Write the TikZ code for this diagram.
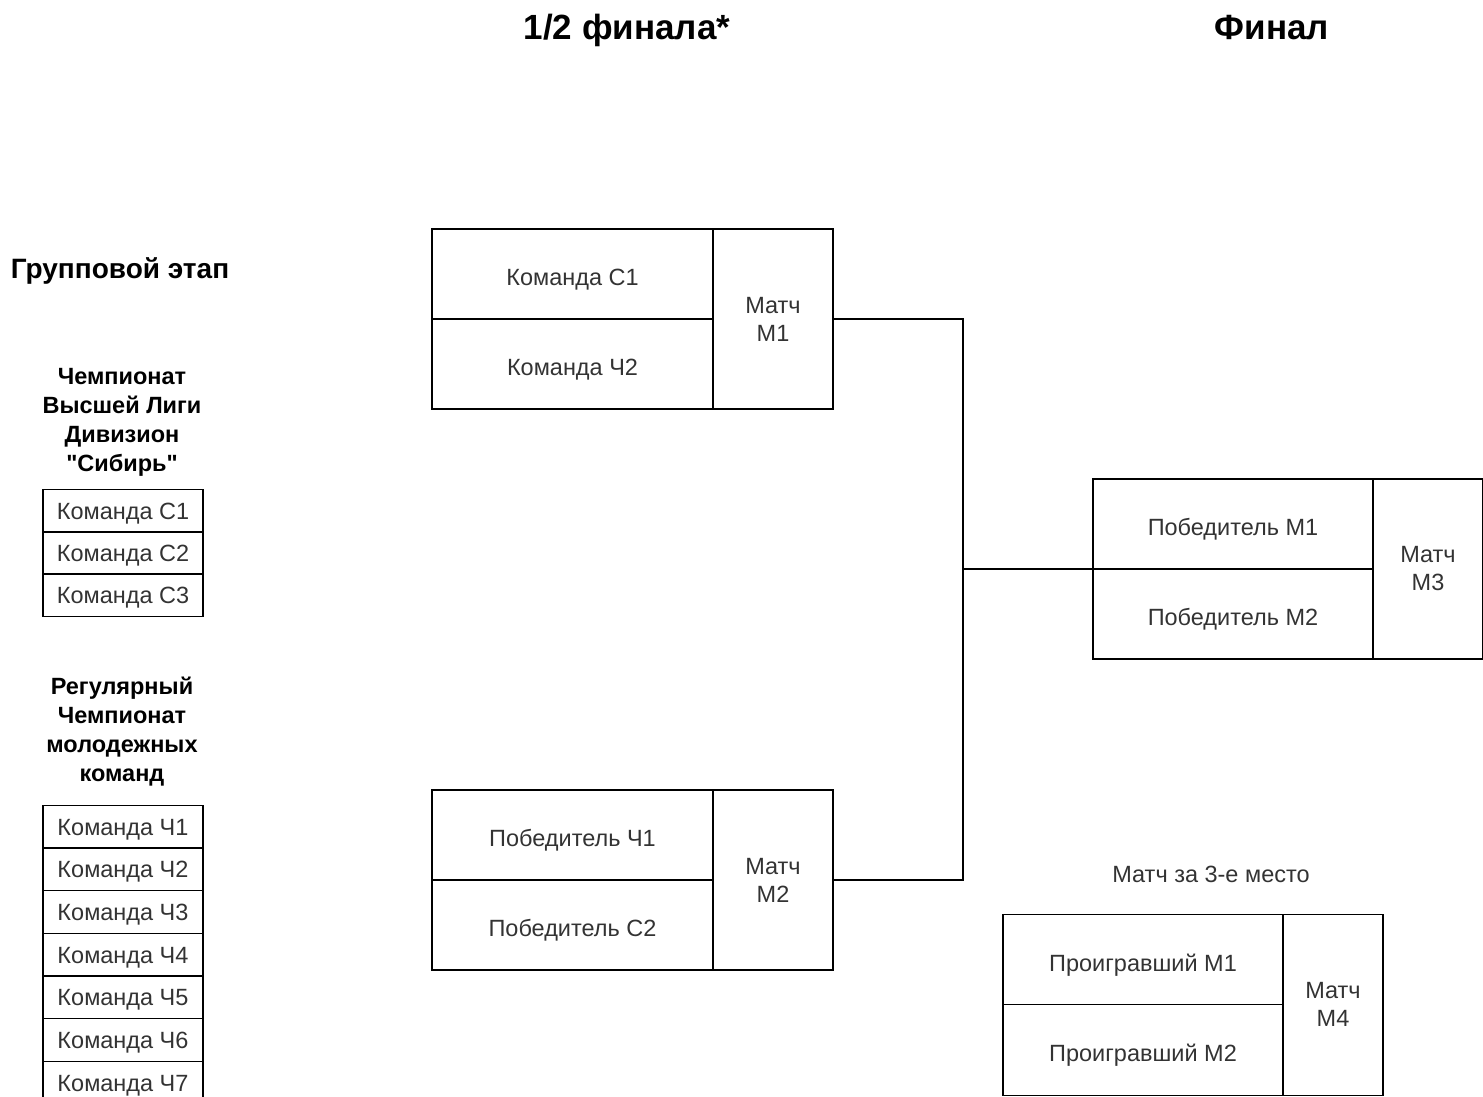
\documentclass[tikz,border=0pt]{standalone}
\usepackage{fontspec}
\setmainfont{Liberation Sans}[Ligatures=TeXOff]
\usetikzlibrary{positioning}

\tikzset{
  heading/.style={font=\bfseries\fontsize{35}{40}\selectfont},
  group title/.style={align=center, font=\bfseries\fontsize{23.5}{29}\selectfont},
  cell/.style={draw, outer sep=0pt, inner sep=0pt, minimum width=160pt,
    minimum height=42.7pt, text height=17pt, text depth=0pt, text=black!80,
    font=\fontsize{23.5}{28}\selectfont},
  slot/.style={draw, outer sep=0pt, inner sep=0pt, minimum width=281pt,
    minimum height=90pt, text height=23pt, text depth=0pt, text=black!80,
    font=\fontsize{23.5}{28}\selectfont},
  match/.style={draw, outer sep=0pt, inner sep=0pt, minimum width=120pt,
    minimum height=180pt, align=center, text=black!80,
    font=\fontsize{23.5}{28}\selectfont}
}

\begin{document}
\begin{tikzpicture}[x=1pt, y=-1pt, line width=1.3pt]
  \useasboundingbox (0,0) rectangle (1483,1097);

  % headings
  \node[heading] (semi) at (627,30) {1/2 финала*};
  \node[heading] (final) at (1272,28) {Финал};
  \node[heading, font=\bfseries\fontsize{28}{32}\selectfont] (groups) at (120,271) {Групповой этап};

  % group stage
  \node[group title] (div1) at (122,422) {Чемпионат\\Высшей Лиги\\Дивизион\\"Сибирь"};
  \foreach \i in {1,...,3}
    \node[cell] (c\i) at (123,{511+42*(\i-1)}) {Команда С\i};

  \node[group title] (div2) at (122,732) {Регулярный\\Чемпионат\\молодежных\\команд};
  \foreach \i in {1,...,7}
    \node[cell] (ch\i) at (123,{826.5+42.7*(\i-1)}) {Команда Ч\i};

  % semifinals
  \node[slot] (s1a) at (572.5,274) {Команда С1};
  \node[slot, below=0pt of s1a] (s1b) {Команда Ч2};
  \node[match, anchor=north west] (m1) at (s1a.north east) {Матч\\М1};

  \node[slot] (s2a) at (572.5,835) {Победитель Ч1};
  \node[slot, below=0pt of s2a] (s2b) {Победитель С2};
  \node[match, anchor=north west] (m2) at (s2a.north east) {Матч\\М2};

  % final
  \node[slot, minimum width=280pt] (f1a) at (1233,524) {Победитель М1};
  \node[slot, minimum width=280pt, below=0pt of f1a] (f1b) {Победитель М2};
  \node[match, minimum width=110pt, anchor=north west] (m3) at (f1a.north east) {Матч\\М3};

  % third place
  \node[font=\fontsize{23.5}{28}\selectfont, text=black!80] (third) at (1211,874) {Матч за 3-е место};
  \node[slot, minimum width=280pt, minimum height=90.5pt] (t1a) at (1143,959.5) {Проигравший М1};
  \node[slot, minimum width=280pt, minimum height=90.5pt, below=0pt of t1a] (t1b) {Проигравший М2};
  \node[match, minimum width=100pt, minimum height=181pt, anchor=north west] (m4) at (t1a.north east) {Матч\\М4};

  \coordinate (join) at (963,569);
  \draw (m1.east) -| (join) |- (m2.east);
  \draw (join) -- (f1a.south west);
\end{tikzpicture}
\end{document}
